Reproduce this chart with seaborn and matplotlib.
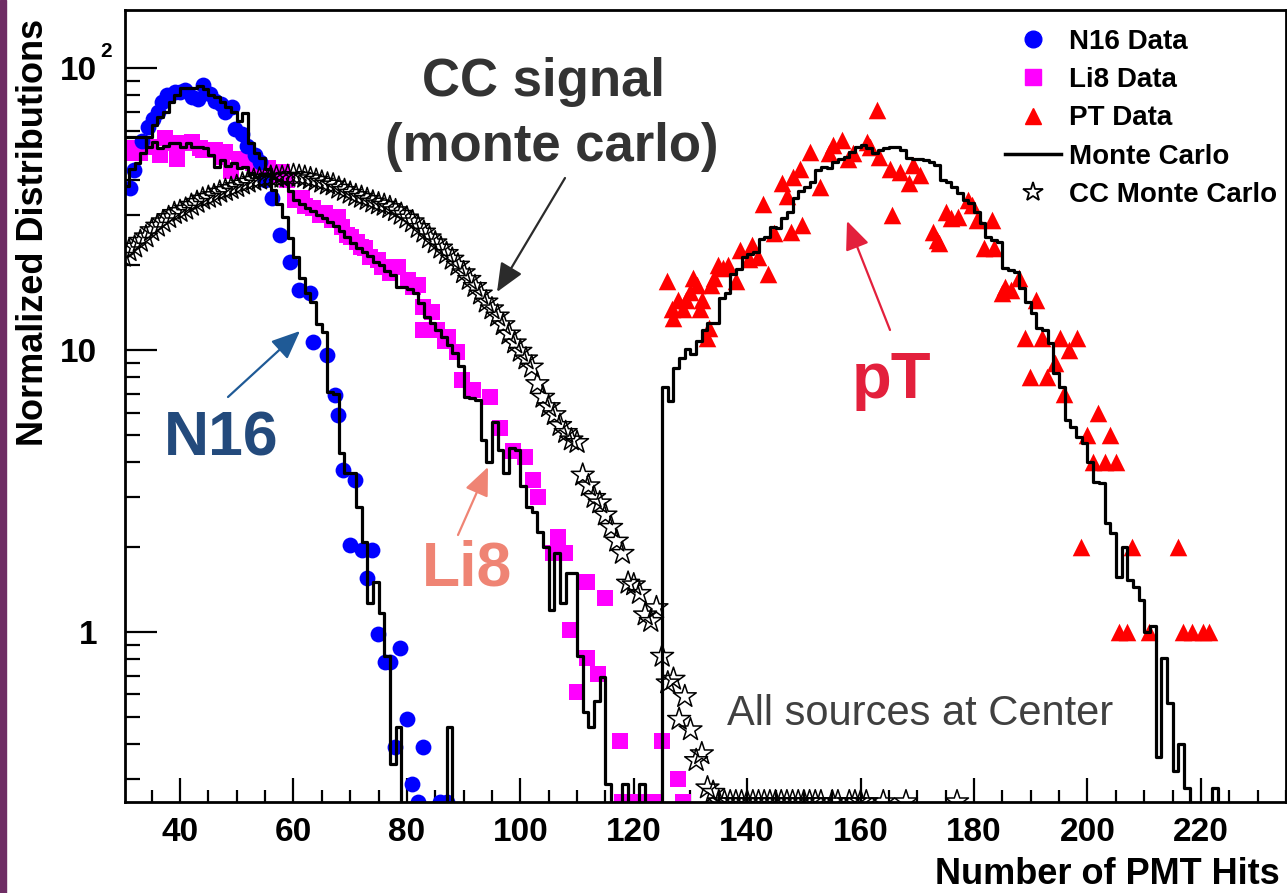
import numpy as np
import pandas as pd
import matplotlib.pyplot as plt
import seaborn as sns
from matplotlib.lines import Line2D
from matplotlib.patches import Rectangle
from matplotlib.ticker import LogLocator, MultipleLocator, NullFormatter

# values
n16_x = [31.2, 31.8, 33.3, 34.4, 35.3, 36.2, 36.8, 37.7, 39.1, 40.0, 40.9, 42.1, 43.2, 44.1,
         45.3, 46.2, 47.3, 47.9, 49.1, 49.7, 50.9, 51.8, 53.2, 54.1, 55.0, 56.2, 57.6, 59.4,
         61.0, 62.9, 63.4, 65.9, 67.3, 67.8, 68.7, 70.0, 70.8, 72.1, 73.0, 73.8, 74.9, 76.1,
         77.0, 77.9, 78.8, 80.0, 80.9, 81.9, 82.8, 85.8, 87.0]
n16_y = [37.6, 43.6, 55, 62, 66, 70, 75.7, 80, 82.4, 82, 83.5, 79, 77.7, 87,
         81, 76.4, 74.7, 70, 72.5, 61, 58.5, 53, 49, 46.4, 40, 34.6, 25.6, 20.5,
         16.3, 15.9, 10.7, 9.6, 6.9, 5.9, 3.75, 2.03, 3.46, 1.95, 1.55, 1.95, 0.98, 0.78,
         0.78, 0.39, 0.88, 0.49, 0.29, 0.25, 0.39, 0.25, 0.25]

li8_x = [30.5, 31.5, 33.0, 34.7, 36.5, 37.4, 38.6, 39.5, 40.9, 42.1, 43.5, 44.1, 46.2, 47.4,
         47.9, 49.0, 50.4, 51.8, 52.8, 53.7, 55.5, 56.4, 58.0, 58.9, 60.3, 61.5, 62.0, 63.4,
         64.7, 65.5, 66.8, 67.8, 68.5, 69.4, 70.2, 71.2, 71.9, 72.6, 73.5, 74.9, 75.6, 77.0,
         78.4, 80.2, 81.1, 81.9, 82.8, 82.9, 84.4, 85.3, 86.7, 87.3, 88.8, 89.7, 91.6, 94.6,
         96.4, 98.7, 100.8, 102.2, 103.1, 105.7, 106.6, 107.8, 108.7, 110.0, 111.7, 111.7,
         113.7, 114.9, 117.5, 118.0, 119.5, 121.0, 122.5, 124.0, 124.9, 127.8, 128.6]
li8_y = [50, 52, 50, 52.4, 49, 56.5, 54, 47.5, 54, 54.5, 52, 51, 51, 48.3,
         50.3, 43, 47.4, 47.4, 46, 44.7, 44.2, 41.6, 42.7, 40.1, 34, 34.5, 32.4, 31.9,
         30.1, 30.5, 28.9, 29.7, 27.3, 25.5, 25.2, 24.2, 23.2, 23, 21.3, 20.9, 19.7, 18.8,
         19.7, 17.7, 16.7, 17, 14.2, 11.8, 13.6, 11.8, 10.8, 11.1, 9.8, 7.8, 7.2, 6.8,
         5.3, 4.4, 4.17, 3.46, 3.0, 1.9, 2.17, 1.9, 1.02, 0.61, 1.5, 0.81,
         0.71, 1.32, 0.41, 0.25, 0.25, 0.25, 0.25, 0.25, 0.41, 0.30, 0.25]

pt_x = [125.8, 126.7, 127.0, 127.8, 128.6, 129.3, 129.9, 130.4, 131.1, 131.6, 132.0, 132.9,
        133.2, 133.7, 134.2, 134.8, 135.7, 136.6, 138.1, 138.7, 140.4, 140.8, 141.9, 142.7,
        143.6, 144.8, 146.1, 147.0, 147.8, 148.0, 149.3, 149.6, 151.0, 152.8, 154.5, 155.1,
        156.8, 157.7, 158.6, 161.1, 161.6, 162.8, 163.3, 165.1, 165.6, 166.9, 168.6, 169.2,
        170.4, 172.7, 173.4, 173.9, 175.0, 176.0, 177.1, 178.9, 179.7, 180.6, 181.8, 183.1,
        183.6, 185.0, 185.4, 186.6, 188.0, 188.9, 189.8, 191.0, 191.9, 192.8, 194.2, 195.1,
        195.9, 196.8, 198.1, 198.9, 200.0, 200.9, 201.8, 203.0, 203.9, 205.1, 205.6, 207.0,
        207.9, 210.8, 215.9, 216.9, 218.5, 220.3, 221.5]
pt_y = [17.5, 14, 13, 15, 14, 15, 16, 18, 17, 14, 15, 11,
        12, 17, 18, 20, 19.5, 20, 17.5, 22.6, 21, 23.6, 21.3, 33,
        18.6, 26, 39, 35.3, 26.2, 41, 44, 27.7, 50.3, 37.8, 50, 53.3,
        55.6, 47.4, 50, 54.7, 52.4, 71, 48.3, 44, 30, 42.7, 39, 45.3,
        41.6, 26.2, 24.5, 23.9, 30.9, 29.4, 29.6, 34, 32.6, 28.9, 23, 28.9,
        23, 15.9, 16.7, 16.3, 18, 11, 8, 15, 11, 8, 9, 11,
        7, 10, 11, 2, 5, 4, 6, 4, 5, 4, 1, 1,
        2, 1, 2, 1, 1, 1, 1]

cc_x = list(range(30, 135)) + [135, 136, 137, 138, 139, 140, 141, 142, 143, 144, 145, 146,
                               147, 148, 149, 150, 151, 152, 153, 155, 156, 158, 159, 160,
                               161, 164, 168, 177]
cc_y = [21.5, 22.5, 23.2, 24.3, 25.2, 26.5, 27.5, 28.5, 29.5, 30.5,
        31, 31.6, 32.6, 33.4, 34.3, 34.8, 35.3, 36.3, 36.8, 37.4,
        38, 38.8, 39.4, 40, 40.4, 40.7, 41, 41, 41, 41.3,
        41.6, 41.3, 41, 40.5, 40, 39.4, 38.8, 38.5, 37.5, 36.8,
        36, 35.3, 34.8, 34.2, 33.5, 33, 32.6, 32, 31.2, 30.3,
        29.4, 28.5, 27.2, 26.2, 25, 24, 23, 22, 21, 20,
        18.8, 17.8, 16.8, 15.8, 14.8, 14, 13.2, 12.3, 11.4, 10.6,
        9.9, 9.3, 8.7, 7.6, 6.8, 6.3, 5.9, 5.4, 5.1, 4.8,
        4.7, 3.6, 3.3, 3.0, 2.87, 2.6, 2.35, 2.1, 1.9, 1.49,
        1.47, 1.37, 1.15, 1.09, 1.22, 0.82, 0.66, 0.68, 0.49, 0.59,
        0.45, 0.35, 0.37, 0.28, 0.27] + [0.25] * 28

# Monte Carlo histograms, 1-hit bins starting at the given left edge
n16_mc_start = 30
n16_mc = [38, 44, 46, 50, 57, 63, 67, 70, 76, 80,
          85, 85, 85, 86, 84, 80, 79, 76, 73, 70,
          65, 69, 54, 50, 48, 44, 37, 33, 29.6, 25,
          21.4, 18, 15.9, 14.8, 12.4, 11.6, 7.1, 7.0, 4.3, 3.66,
          3.66, 2.77, 2.08, 1.27, 1.5, 1.17, 0.82, 0.34, 0.46, 0,
          0, 0, 0, 0, 0, 0, 0, 0.46, 0]
li8_mc_start = 30
li8_mc = [57, 57, 57, 57, 52.5, 54.5, 52, 53, 54, 54,
          52.5, 54, 52.5, 52.5, 52, 49, 44.5, 47, 45, 46,
          44.3, 44.6, 42.4, 41, 41.7, 41.7, 40.7, 40, 39.4, 36.5,
          34, 33, 32, 31, 30, 29.5, 28.5, 27.5, 26.5, 25.2,
          24, 23, 22.3, 21.5, 20.5, 20, 19, 18.5, 16.7, 16.7,
          16.5, 15.9, 14.7, 13.1, 12.5, 11.8, 11.1, 10.4, 9.76, 8.8,
          6.81, 6.76, 6.65, 4.8, 4.0, 5.56, 4.42, 3.66, 4.5, 4.42,
          3.3, 2.77, 2.66, 2.27, 2.0, 1.2, 1.91, 1.27, 1.62, 1.62,
          0.82, 0.52, 0.46, 0.57, 0.69, 0.29, 0, 0, 0.29, 0,
          0, 0.29, 0, 0, 0]
pt_mc_start = 124
pt_mc = [0, 7.4, 6.6, 8.6, 9.4, 10.1,
         9.7, 10.8, 11.8, 12.5, 12.5, 15.3, 15.9, 18.6, 19.3, 21.3,
         21.9, 22.2, 24.7, 25.1, 27.3, 27.0, 29.4, 30.9, 34.5, 36.5,
         37.7, 39.4, 43.4, 44.5, 44.1, 46.4, 47.5, 48.3, 50.3, 52.4,
         53.3, 52, 50, 51.1, 52, 52.4, 52.4, 51.1, 48, 47.4,
         47.4, 47, 46.4, 45.3, 40.1, 39.4, 37.8, 36, 34, 33.1,
         30.9, 28.2, 25.2, 24.5, 24.2, 19.5, 19.2, 18.9, 16.6, 14.8,
         13.5, 12.0, 11.8, 10.6, 8.3, 7.4, 5.65, 5.34, 4.92, 4.68,
         4.0, 3.4, 3.38, 2.43, 2.24, 1.57, 2.0, 1.53, 1.44, 1.3,
         1.0, 1.05, 0.36, 0.81, 0.56, 0.32, 0.40, 0.28, 0, 0,
         0, 0, 0.28, 0]

x_ticks = [40, 60, 80, 100, 120, 140, 160, 180, 200, 220]
y_ticks = [1, 10, 100]
y_ticklabels = ['1', '10', '10']


def hist_frame(start, vals):
    edges = np.arange(start, start + len(vals) + 1)
    y = np.append(vals, vals[-1])
    y = np.where(y > 0, y, 1e-3)  # empty bins drop below the axis
    return pd.DataFrame({'hits': edges, 'value': y})


plt.rcParams['font.family'] = ['Liberation Sans', 'DejaVu Sans']
plt.rcParams['font.weight'] = 'bold'

W, H = 1287, 893
fig = plt.figure(figsize=(W / 100, H / 100), dpi=100)
ax = fig.add_axes([125 / W, 91 / H, 1161 / W, 792 / H])

# data points
sns.scatterplot(x=li8_x, y=li8_y, marker='s', s=125, color='#ff00ff', linewidth=0,
                ax=ax, zorder=2, legend=False)
sns.scatterplot(x=n16_x, y=n16_y, marker='o', s=130, color='#0000ff', linewidth=0,
                ax=ax, zorder=2, legend=False)
sns.scatterplot(x=pt_x, y=pt_y, marker='^', s=160, color='#ff0000', linewidth=0,
                ax=ax, zorder=2, legend=False)

# monte carlo histograms
for start, vals in [(n16_mc_start, n16_mc), (li8_mc_start, li8_mc), (pt_mc_start, pt_mc)]:
    sns.lineplot(data=hist_frame(start, vals), x='hits', y='value', drawstyle='steps-post',
                 estimator=None, sort=False, color='black', linewidth=2.3, ax=ax, zorder=4)

# CC monte carlo stars
sns.scatterplot(x=cc_x, y=cc_y, marker='*', s=300, facecolors='none', edgecolor='black',
                linewidth=1.1, ax=ax, zorder=5, legend=False)

ax.set_yscale('log')
ax.set_xlim(30.3, 235)
ax.set_ylim(0.2494, 160.6)
ax.set_xlabel('')
ax.set_ylabel('')

ax.set_xticks(x_ticks)
ax.xaxis.set_minor_locator(MultipleLocator(5))
ax.set_yticks(y_ticks)
ax.set_yticklabels(y_ticklabels)
ax.yaxis.set_minor_locator(LogLocator(base=10, subs=np.arange(2, 10)))
ax.yaxis.set_minor_formatter(NullFormatter())

ax.tick_params(axis='both', which='both', direction='in', top=False, right=False,
               labelsize=24, width=1.6, color='black')
ax.tick_params(axis='y', which='major', length=23, pad=20)
ax.tick_params(axis='y', which='minor', length=11)
ax.tick_params(axis='x', which='major', length=17, pad=11)
ax.tick_params(axis='x', which='minor', length=9)
for sp in ax.spines.values():
    sp.set_linewidth(2.0)

# exponent of the 10^2 tick label
fig.text(100 / W, 1 - 57 / H, '2', ha='left', va='baseline', fontsize=15, fontweight='bold')

# axis titles
fig.text(43 / W, 1 - 232 / H, 'Normalized Distributions', rotation=90, rotation_mode='anchor',
         ha='center', va='baseline', fontsize=26, fontweight='bold')
fig.text(1280 / W, 1 - 884 / H, 'Number of PMT Hits', ha='right', va='baseline',
         fontsize=26, fontweight='bold')

# legend
handles = [
    Line2D([], [], ls='none', marker='o', color='#0000ff', markersize=12),
    Line2D([], [], ls='none', marker='s', color='#ff00ff', markersize=11),
    Line2D([], [], ls='none', marker='^', color='#ff0000', markersize=12),
    Line2D([], [], color='black', lw=2.5),
    Line2D([], [], ls='none', marker='*', markerfacecolor='white', markeredgecolor='black',
           markeredgewidth=1.3, markersize=15),
]
labels = ['N16 Data', 'Li8 Data', 'PT Data', 'Monte Carlo', 'CC Monte Carlo']
ax.legend(handles, labels, loc='upper left', bbox_to_anchor=(1005 / W, 1 - 29 / H),
          bbox_transform=fig.transFigure, frameon=False, borderaxespad=0, borderpad=0,
          handlelength=2.0, handletextpad=0.3, labelspacing=0.44,
          prop={'size': 20, 'weight': 'bold'})

# annotations
fig.text(544 / W, 1 - 96 / H, 'CC signal', ha='center', va='baseline', fontsize=38,
         fontweight='bold', color='#333333')
fig.text(552 / W, 1 - 161 / H, '(monte carlo)', ha='center', va='baseline', fontsize=38,
         fontweight='bold', color='#333333')
fig.text(221 / W, 1 - 455 / H, 'N16', ha='center', va='baseline', fontsize=45,
         fontweight='bold', color='#234a7c')
fig.text(467 / W, 1 - 585 / H, 'Li8', ha='center', va='baseline', fontsize=45,
         fontweight='bold', color='#ef8474')
fig.text(892 / W, 1 - 398 / H, 'pT', ha='center', va='baseline', fontsize=47,
         fontweight='bold', color='#e3203c')
fig.text(727 / W, 1 - 725 / H, 'All sources at Center', ha='left', va='baseline',
         fontsize=30, fontweight='normal', color='#404040')

arrows = [((228, 397), (300, 331), '#1f5a96'),
          ((565, 178), (497, 292), '#2b2b2b'),
          ((458, 535), (488, 467), '#ef8474'),
          ((890, 330), (847, 221), '#e3203c')]
for (tx, ty), (hx, hy), col in arrows:
    ax.annotate('', xy=(hx / W, 1 - hy / H), xytext=(tx / W, 1 - ty / H),
                xycoords='figure fraction', textcoords='figure fraction',
                arrowprops=dict(arrowstyle='-|>,head_length=0.7,head_width=0.3',
                                color=col, lw=1.6, mutation_scale=25, shrinkA=0, shrinkB=0))

# purple strip at the left edge
fig.add_artist(Rectangle((0, 0), 6 / W, 1, transform=fig.transFigure,
                         color='#6e2d64', zorder=10))

fig.savefig('out.png', dpi=100)
